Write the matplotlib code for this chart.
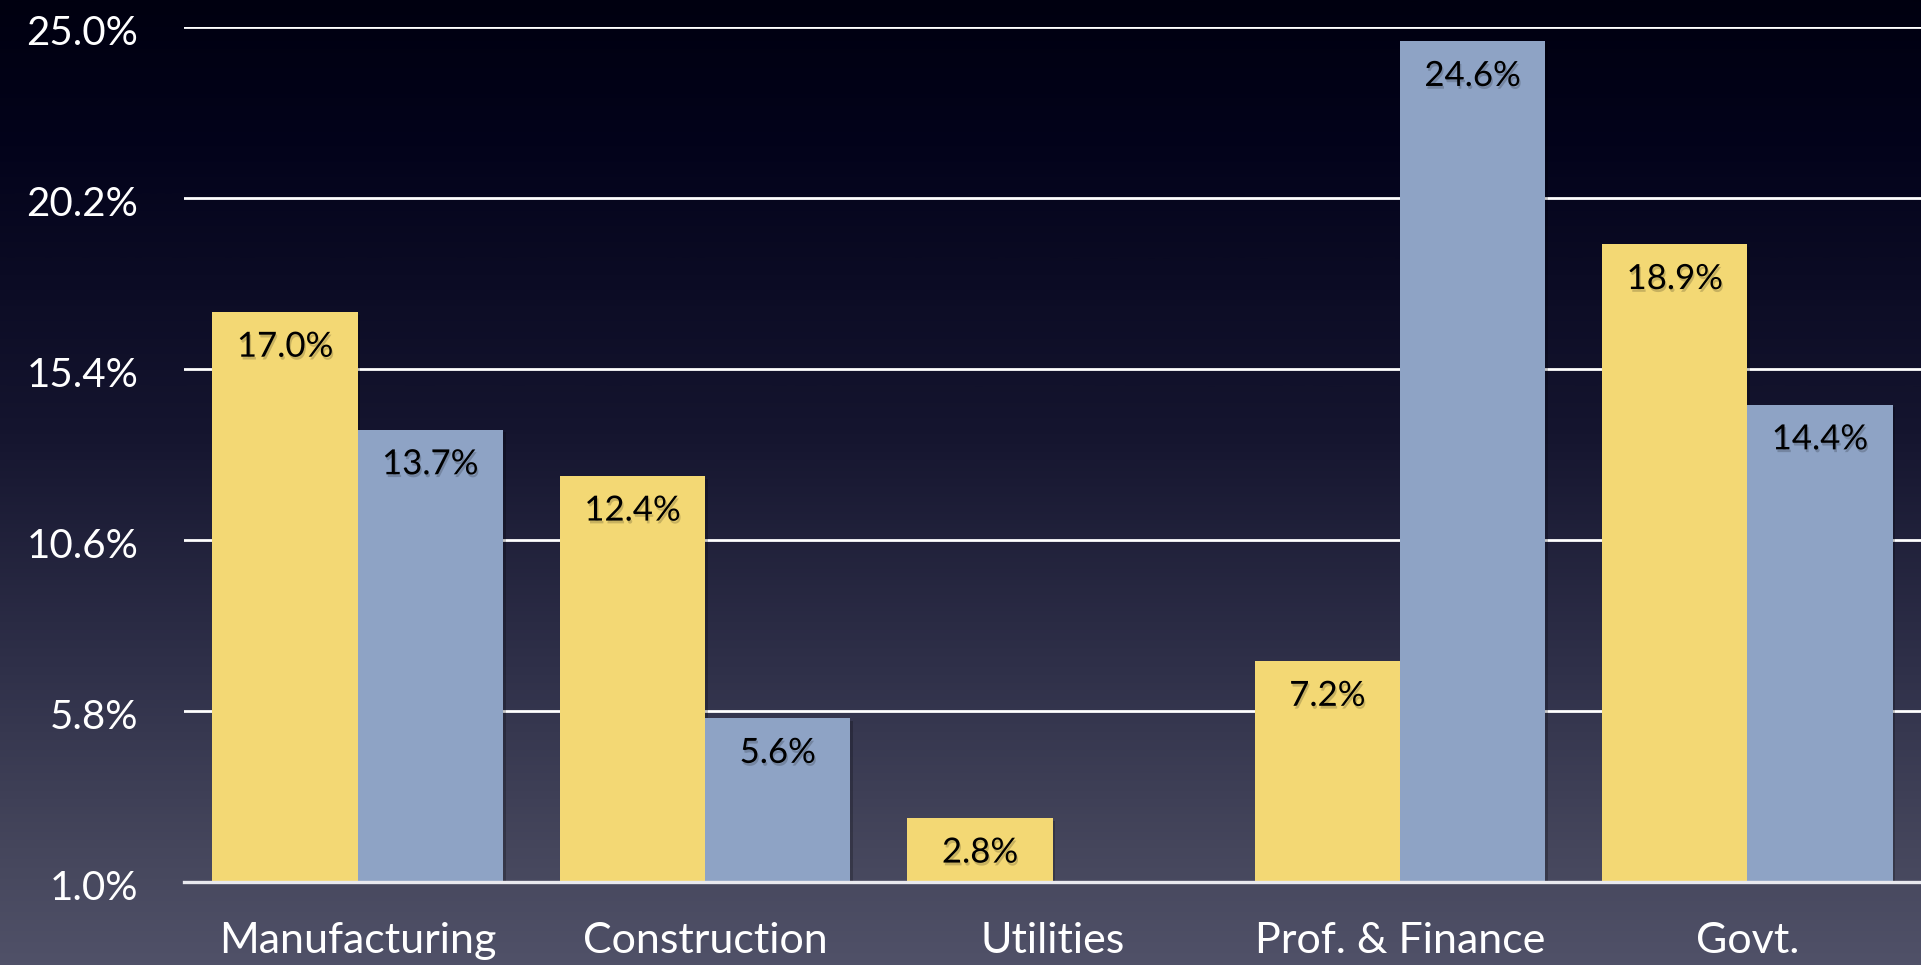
import numpy as np
import matplotlib
matplotlib.use("Agg")
import matplotlib.pyplot as plt
from matplotlib import patheffects as pe
from matplotlib.colors import LinearSegmentedColormap
from matplotlib.transforms import ScaledTranslation

categories = ["Manufacturing", "Construction", "Utilities", "Prof. & Finance", "Govt."]
series_yellow = [17.0, 12.4, 2.8, 7.2, 18.9]
series_blue = [13.7, 5.6, np.nan, 24.6, 14.4]
yticks = [1.0, 5.8, 10.6, 15.4, 20.2, 25.0]
ytick_labels = ["1.0%", "5.8%", "10.6%", "15.4%", "20.2%", "25.0%"]

YELLOW = "#f3d874"
BLUE = "#8ea3c5"
FONT = ["Lato", "DejaVu Sans"]

fig = plt.figure(figsize=(19.21, 9.65), dpi=100)

# background gradient
bg = fig.add_axes([0, 0, 1, 1], zorder=-10)
cmap = LinearSegmentedColormap.from_list(
    "bg", [(0.0, "#000010"), (0.15, "#03031b"), (0.45, "#15152f"),
           (0.7, "#30314a"), (0.88, "#45465c"), (1.0, "#505168")])
grad = np.linspace(0, 1, 512).reshape(-1, 1)
bg.imshow(grad, aspect="auto", cmap=cmap, extent=[0, 1, 1, 0])
bg.set_axis_off()

left = 184 / 1921
right = 1.0
bottom = (965 - 882) / 965
top = (965 - 27) / 965
ax = fig.add_axes([left, bottom, right - left, top - bottom])
ax.set_facecolor("none")

x = np.arange(len(categories))
w = 0.418
shadow = [pe.SimplePatchShadow(offset=(2, -2), shadow_rgbFace="black", alpha=0.22), pe.Normal()]

base = yticks[0]
yv = np.array(series_yellow) - base
bv = np.array(series_blue) - base
bars_y = ax.bar(x - w / 2, yv, width=w, bottom=base, color=YELLOW, zorder=3)
bars_b = ax.bar(x + w / 2, bv, width=w, bottom=base, color=BLUE, zorder=3)
for b in list(bars_y) + list(bars_b):
    b.set_path_effects(shadow)

txt_shadow = [pe.SimplePatchShadow(offset=(1, -2), shadow_rgbFace="black", alpha=0.18), pe.Normal()]
for xs, vals in ((x - w / 2, series_yellow), (x + w / 2, series_blue)):
    for xi, v in zip(xs, vals):
        if np.isnan(v):
            continue
        ax.annotate(f"{v:.1f}%", (xi, v), xytext=(0, -25), textcoords="offset points",
                    ha="center", va="center", fontsize=25, color="black",
                    family=FONT, zorder=5, path_effects=txt_shadow)

ax.set_xlim(-0.5, len(categories) - 0.5)
ax.set_ylim(yticks[0], yticks[-1])
ax.set_yticks(yticks)
ax.set_yticklabels(ytick_labels)
ax.set_xticks(x)
ax.set_xticklabels(categories)
ax.tick_params(axis="y", length=0, pad=33, labelsize=29, labelcolor="white")
ax.tick_params(axis="x", length=0, pad=29, labelsize=31, labelcolor="white")
offset = ScaledTranslation(0, -2 / 72, fig.dpi_scale_trans)
for lab in ax.get_yticklabels():
    lab.set_family(FONT)
    lab.set_transform(lab.get_transform() + offset)
for lab in ax.get_xticklabels():
    lab.set_family(FONT)

ax.grid(axis="y", color="white", linewidth=2.0, zorder=1)
ax.set_axisbelow(True)
for s in ("left", "right", "top"):
    ax.spines[s].set_visible(False)
ax.spines["bottom"].set_color("#e8e8ee")
ax.spines["bottom"].set_linewidth(2.4)
ax.spines["bottom"].set_zorder(4)

fig.savefig("out.png", dpi=100)
